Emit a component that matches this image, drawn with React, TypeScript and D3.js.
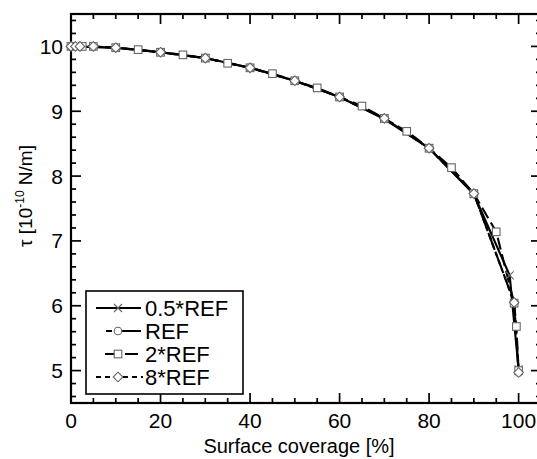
import React from "react";
import * as d3 from "d3";

const seriesNames = ["0.5*REF", "REF", "2*REF", "8*REF"];

const halfRefX = [0, 10, 20, 30, 40, 50, 60, 70, 80, 90, 98, 100];
const halfRefY = [10.0, 9.98, 9.91, 9.82, 9.67, 9.47, 9.22, 8.88, 8.43, 7.72, 6.47, 5.02];

const refX = [0, 10, 20, 30, 40, 50, 60, 70, 80, 90, 99, 100];
const refY = [10.0, 9.98, 9.91, 9.82, 9.67, 9.47, 9.22, 8.89, 8.43, 7.73, 6.05, 4.97];

const twoRefX = [0, 2.5, 5, 10, 15, 20, 25, 30, 35, 40, 45, 50, 55, 60, 65, 70, 75, 80, 85, 90, 95, 99, 99.5, 100];
const twoRefY = [10.0, 10.0, 10.0, 9.98, 9.95, 9.91, 9.87, 9.82, 9.74, 9.67, 9.58, 9.47, 9.36, 9.22, 9.08, 8.89, 8.69, 8.43, 8.13, 7.73, 7.14, 6.04, 5.68, 5.0];

const eightRefX = [0, 1, 2, 5, 10, 20, 30, 40, 50, 60, 70, 80, 90, 99, 100];
const eightRefY = [10.0, 10.0, 10.0, 10.0, 9.98, 9.91, 9.82, 9.67, 9.47, 9.22, 8.89, 8.43, 7.73, 6.05, 4.97];

const xMajorTicks = [0, 20, 40, 60, 80, 100];
const yMajorTicks = [5, 6, 7, 8, 9, 10];

const FONT = "'Liberation Sans', Arial, Helvetica, sans-serif";
const MARK = "#666";

type Shape = "x" | "circle" | "square" | "diamond";

function marker(shape: Shape, cx: number, cy: number, key: string) {
  const s = 4;
  if (shape === "x") {
    return (
      <path key={key} d={`M${cx - s},${cy - s}L${cx + s},${cy + s}M${cx - s},${cy + s}L${cx + s},${cy - s}`}
        stroke={MARK} strokeWidth={1.1} fill="none" />
    );
  }
  if (shape === "circle") {
    return <circle key={key} cx={cx} cy={cy} r={3.8} fill="#fff" stroke={MARK} strokeWidth={1.1} />;
  }
  if (shape === "square") {
    return <rect key={key} x={cx - 3.8} y={cy - 3.8} width={7.6} height={7.6} fill="#fff" stroke={MARK} strokeWidth={1.1} />;
  }
  const d = 4.8;
  return <path key={key} d={`M${cx},${cy - d}L${cx + d},${cy}L${cx},${cy + d}L${cx - d},${cy}Z`} fill="#fff" stroke={MARK} strokeWidth={1.1} />;
}

export default function App() {
  const width = 537;
  const height = 459;
  const left = 71, right = 541, top = 14, bottom = 403;

  const x = d3.scaleLinear().domain([0, 105]).range([left, right]);
  const y = d3.scaleLinear().domain([4.5, 10.5]).range([bottom, top]);

  const series = [
    { name: seriesNames[0], xs: halfRefX, ys: halfRefY, shape: "x" as Shape, dash: "none" },
    { name: seriesNames[1], xs: refX, ys: refY, shape: "circle" as Shape, dash: "18,4" },
    { name: seriesNames[2], xs: twoRefX, ys: twoRefY, shape: "square" as Shape, dash: "12,5" },
    { name: seriesNames[3], xs: eightRefX, ys: eightRefY, shape: "diamond" as Shape, dash: "5,4" },
  ];

  const line = d3.line<[number, number]>().x((d) => x(d[0])).y((d) => y(d[1]));

  const xMinor = d3.range(0, 105.01, 5).filter((v) => !xMajorTicks.includes(v));
  const yMinor = d3.range(4.6, 10.5, 0.2).map((v) => Math.round(v * 10) / 10).filter((v) => !yMajorTicks.includes(v));

  const MAJ = 10, MIN = 5;

  const legendRows = [308, 331, 354, 377];

  return (
    <svg width={width} height={height} style={{ position: "absolute", left: 0, top: 0, background: "#fff" }}
      fontFamily={FONT}>
      <rect x={0} y={0} width={width} height={height} fill="#fff" />
      {/* ticks */}
      <g stroke="#000" strokeWidth={1.7}>
        {xMajorTicks.map((v) => (
          <g key={"xM" + v}>
            <line x1={x(v)} x2={x(v)} y1={bottom} y2={bottom - MAJ} />
            <line x1={x(v)} x2={x(v)} y1={top} y2={top + MAJ} />
          </g>
        ))}
        {xMinor.map((v) => (
          <g key={"xm" + v}>
            <line x1={x(v)} x2={x(v)} y1={bottom} y2={bottom - MIN} />
            <line x1={x(v)} x2={x(v)} y1={top} y2={top + MIN} />
          </g>
        ))}
        {yMajorTicks.map((v) => (
          <g key={"yM" + v}>
            <line x1={left} x2={left + MAJ} y1={y(v)} y2={y(v)} />
            <line x1={right} x2={right - MAJ} y1={y(v)} y2={y(v)} />
          </g>
        ))}
        {yMinor.map((v) => (
          <g key={"ym" + v}>
            <line x1={left} x2={left + MIN} y1={y(v)} y2={y(v)} />
            <line x1={right} x2={right - MIN} y1={y(v)} y2={y(v)} />
          </g>
        ))}
      </g>
      {/* frame */}
      <rect x={left} y={top} width={right - left} height={bottom - top} fill="none" stroke="#000" strokeWidth={2.2} />

      {/* lines */}
      {series.map((s) => (
        <path key={"l" + s.name}
          d={line(s.xs.map((v, i) => [v, s.ys[i]] as [number, number])) || ""}
          fill="none" stroke="#000" strokeWidth={2.1} strokeDasharray={s.dash} strokeLinejoin="round" />
      ))}
      {/* markers */}
      {series.map((s) => (
        <g key={"m" + s.name}>
          {s.xs.map((v, i) => marker(s.shape, x(v), y(s.ys[i]), s.name + i))}
        </g>
      ))}

      {/* tick labels */}
      {xMajorTicks.map((v) => (
        <text key={"xt" + v} x={x(v)} y={428} fontSize={21} textAnchor="middle" fill="#000">{v}</text>
      ))}
      {yMajorTicks.map((v) => (
        <text key={"yt" + v} x={63} y={y(v)} dy="0.36em" fontSize={21} textAnchor="end" fill="#000">{v}</text>
      ))}

      {/* axis titles */}
      <text x={299} y={453} fontSize={20} textAnchor="middle" fill="#000">Surface coverage [%]</text>
      <text transform={`translate(32,196) rotate(-90)`} fontSize={19} textAnchor="middle" fill="#000">
        τ [10<tspan fontSize={12} dy={-8}>-10</tspan><tspan dy={8}> N/m]</tspan>
      </text>

      {/* legend */}
      <rect x={86} y={291} width={157} height={103} fill="#fff" stroke="#000" strokeWidth={1.6} />
      {series.map((s, i) => {
        const ly = legendRows[i];
        let seg: React.ReactNode;
        if (i === 0) {
          seg = <line x1={96} x2={141} y1={ly} y2={ly} stroke="#000" strokeWidth={2} />;
        } else if (i === 1) {
          seg = (
            <g stroke="#000" strokeWidth={2}>
              <line x1={106} x2={112} y1={ly} y2={ly} />
              <line x1={116} x2={141} y1={ly} y2={ly} />
            </g>
          );
        } else if (i === 2) {
          seg = (
            <g stroke="#000" strokeWidth={2}>
              <line x1={105} x2={116} y1={ly} y2={ly} />
              <line x1={125} x2={138} y1={ly} y2={ly} />
            </g>
          );
        } else {
          seg = <line x1={96} x2={143} y1={ly} y2={ly} stroke="#000" strokeWidth={2} strokeDasharray="5,4" />;
        }
        return (
          <g key={"lg" + s.name}>
            {seg}
            {marker(s.shape, 118, ly, "lgm" + i)}
            <text x={145} y={ly} dy="0.36em" fontSize={22} fill="#000">{s.name}</text>
          </g>
        );
      })}
    </svg>
  );
}
